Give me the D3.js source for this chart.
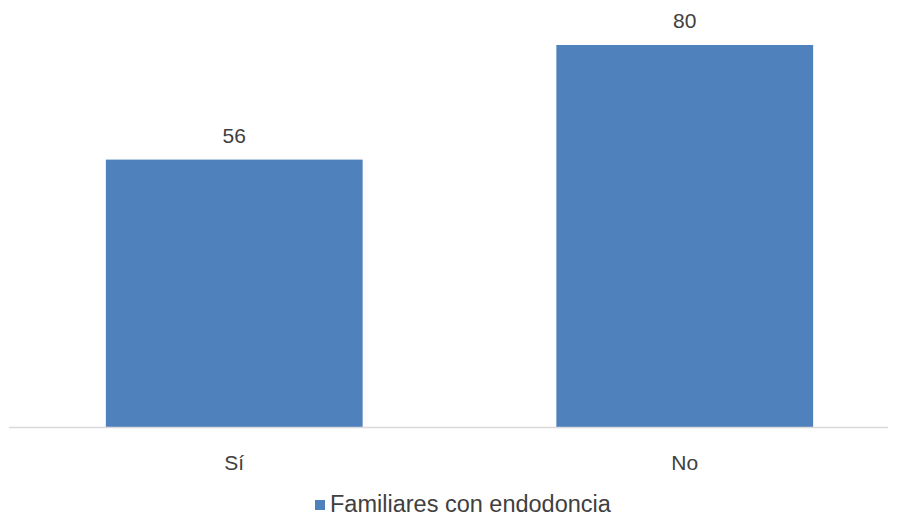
<!DOCTYPE html>
<html>
<head>
<meta charset="utf-8">
<script src="https://cdn.jsdelivr.net/npm/d3@7"></script>
<style>
  html, body { margin: 0; padding: 0; background: #ffffff; }
  svg { display: block; font-family: "Liberation Sans", Arial, sans-serif; }
</style>
</head>
<body>
<svg id="chart" width="897" height="518"></svg>
<script>
// Respuestas: ¿familiares con endodoncia?
const categories = ["Sí", "No"];
const values = [56, 80];
const seriesName = "Familiares con endodoncia";

const W = 897, H = 518;
const baseY = 427;
const barColor = "#4f81bd";
const textColor = "#404040";

const svg = d3.select("#chart");

const x = d3.scaleBand()
  .domain(categories)
  .range([9, 910])
  .paddingInner(0.43)
  .paddingOuter(0.215);

const y = d3.scaleLinear()
  .domain([0, 80])
  .range([baseY, 45]);

// barras
svg.append("g").selectAll("rect")
  .data(categories)
  .join("rect")
  .attr("x", d => x(d))
  .attr("width", x.bandwidth())
  .attr("y", (d, i) => y(values[i]))
  .attr("height", (d, i) => y(0) - y(values[i]))
  .attr("fill", barColor);

// eje horizontal
svg.append("line")
  .attr("x1", 9).attr("x2", 888)
  .attr("y1", baseY + 0.5).attr("y2", baseY + 0.5)
  .attr("stroke", "#d9d9d9")
  .attr("stroke-width", 1.5);

// etiquetas de valor
svg.append("g").selectAll("text")
  .data(categories)
  .join("text")
  .attr("x", d => x(d) + x.bandwidth() / 2)
  .attr("y", (d, i) => y(values[i]) - 17)
  .attr("text-anchor", "middle")
  .attr("font-size", 21)
  .attr("fill", textColor)
  .text((d, i) => values[i]);

// etiquetas de categoría
svg.append("g").selectAll("text")
  .data(categories)
  .join("text")
  .attr("x", d => x(d) + x.bandwidth() / 2)
  .attr("y", 470)
  .attr("text-anchor", "middle")
  .attr("font-size", 21)
  .attr("fill", textColor)
  .text(d => d);

// leyenda
const legend = svg.append("g");
legend.append("rect")
  .attr("x", 315).attr("y", 500)
  .attr("width", 10).attr("height", 10)
  .attr("fill", barColor);
legend.append("text")
  .attr("x", 330).attr("y", 512)
  .attr("font-size", 23.5)
  .attr("fill", textColor)
  .text(seriesName);
</script>
</body>
</html>
